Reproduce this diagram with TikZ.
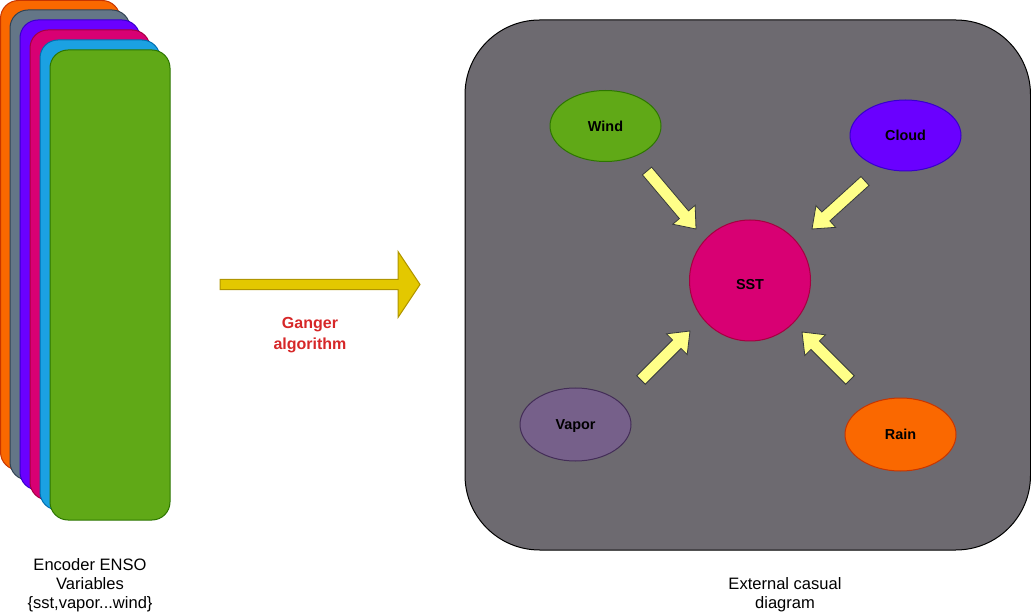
\documentclass[tikz,border=0pt]{standalone}
\usepackage{fontspec}
\setmainfont{Liberation Sans}
\usetikzlibrary{calc,shapes.geometric}
\definecolor{cOrange}{HTML}{FA6800}\definecolor{sOrange}{HTML}{C73500}
\definecolor{cGray}{HTML}{647687}\definecolor{sGray}{HTML}{314354}
\definecolor{cPurple}{HTML}{6A00FF}\definecolor{sPurple}{HTML}{3700CC}
\definecolor{cMagenta}{HTML}{D80073}\definecolor{sMagenta}{HTML}{A50040}
\definecolor{cBlue}{HTML}{1BA1E2}\definecolor{sBlue}{HTML}{006EAF}
\definecolor{cGreen}{HTML}{60A917}\definecolor{sGreen}{HTML}{2D7600}
\definecolor{cViolet}{HTML}{76608A}\definecolor{sViolet}{HTML}{432D57}
\definecolor{cPanel}{HTML}{6D6A70}
\definecolor{cBigArrow}{HTML}{E3C800}\definecolor{sBigArrow}{HTML}{B09500}
\definecolor{cSmallArrow}{HTML}{FFFF88}\definecolor{sSmallArrow}{HTML}{36393D}
\definecolor{cRed}{HTML}{D62728}
\newcommand\blockarrow[6]{%
  \path ($(#3)!#6!(#2)$) coordinate (hb);
  \draw[#1] ($(#2)!#4!90:(#3)$) -- ($(hb)!#4!90:(#3)$) -- ($(hb)!#5!90:(#3)$) -- (#3)
    -- ($(hb)!#5!-90:(#3)$) -- ($(hb)!#4!-90:(#3)$) -- ($(#2)!#4!-90:(#3)$) -- cycle;}
\begin{document}
\begin{tikzpicture}[x=0.75pt,y=-0.75pt,
  var/.style={ellipse, draw, line width=0.75pt, minimum width=83.25pt, minimum height=53.25pt, inner sep=0pt,
     font=\fontsize{10.8}{12}\selectfont\bfseries},
  caption/.style={align=center, font=\fontsize{12.4}{14.4}\selectfont, text=black},
  smallarrow/.style={fill=cSmallArrow, draw=sSmallArrow, line width=0.6pt, line join=miter},
  bigarrow/.style={fill=cBigArrow, draw=sBigArrow, line width=0.75pt, line join=miter}]
\useasboundingbox (0,0) rectangle (1031,616);
% stacked layers
\draw[fill=cOrange, draw=sOrange, line width=0.75pt, rounded corners=13.5pt] (0.5,0.5) rectangle (120,470);
\draw[fill=cGray, draw=sGray, line width=0.75pt, rounded corners=13.5pt] (10,10) rectangle (130,480);
\draw[fill=cPurple, draw=sPurple, line width=0.75pt, rounded corners=13.5pt] (20,20) rectangle (140,490);
\draw[fill=cMagenta, draw=sMagenta, line width=0.75pt, rounded corners=13.5pt] (30,30) rectangle (150,500);
\draw[fill=cBlue, draw=sBlue, line width=0.75pt, rounded corners=13.5pt] (40,40) rectangle (160,510);
\draw[fill=cGreen, draw=sGreen, line width=0.75pt, rounded corners=13.5pt] (50,50) rectangle (170,520);
\node[caption] (enc) at (90,585) {Encoder ENSO\\Variables\\\{sst,vapor...wind\}};
% big arrow
\coordinate (bigtail) at (220,284.5);
\coordinate (bigtip) at (420,284.5);
\blockarrow{bigarrow}{bigtail}{bigtip}{3.9pt}{24.75pt}{16.5pt}
\node[align=center, text=cRed, font=\fontsize{12}{15.75}\selectfont\bfseries] (alg) at (310,335) {Ganger\\algorithm};
% panel
\draw[fill=cPanel, draw=black, line width=0.75pt, rounded corners=56pt] (465,20) rectangle (1030.5,550);
\node[caption] (ext) at (785,595) {External casual\\diagram};
% variables
\node[var, fill=cGreen, draw=sGreen] (wind) at (605.5,126) {Wind};
\node[var, fill=cPurple, draw=sPurple] (cloud) at (905.5,135.5) {Cloud};
\node[var, fill=cViolet, draw=sViolet, minimum height=54.75pt] (vapor) at (575.5,424.5) {\smash{\raisebox{-3.9pt}{Vapor}}};
\node[var, fill=cOrange, draw=sOrange, minimum height=54.75pt] (rain) at (900.5,434.5) {Rain};
\node[circle, fill=cMagenta, draw=sMagenta, line width=0.75pt, minimum size=90.75pt, inner sep=0pt,
  font=\fontsize{10.8}{12}\selectfont\bfseries] (sst) at (750,280.5) {\smash{\raisebox{-7pt}{SST}}};
% small arrows
\coordinate (t1) at (647,171); \coordinate (p1) at (696,229);
\coordinate (t2) at (865,181); \coordinate (p2) at (812,229);
\coordinate (t3) at (641,380); \coordinate (p3) at (690,331);
\coordinate (t4) at (850,380); \coordinate (p4) at (802,332);
\blockarrow{smallarrow}{t1}{p1}{4.5pt}{11pt}{14pt}
\blockarrow{smallarrow}{t2}{p2}{4.5pt}{11pt}{14pt}
\blockarrow{smallarrow}{t3}{p3}{4.5pt}{11pt}{14pt}
\blockarrow{smallarrow}{t4}{p4}{4.5pt}{11pt}{14pt}
\end{tikzpicture}
\end{document}
